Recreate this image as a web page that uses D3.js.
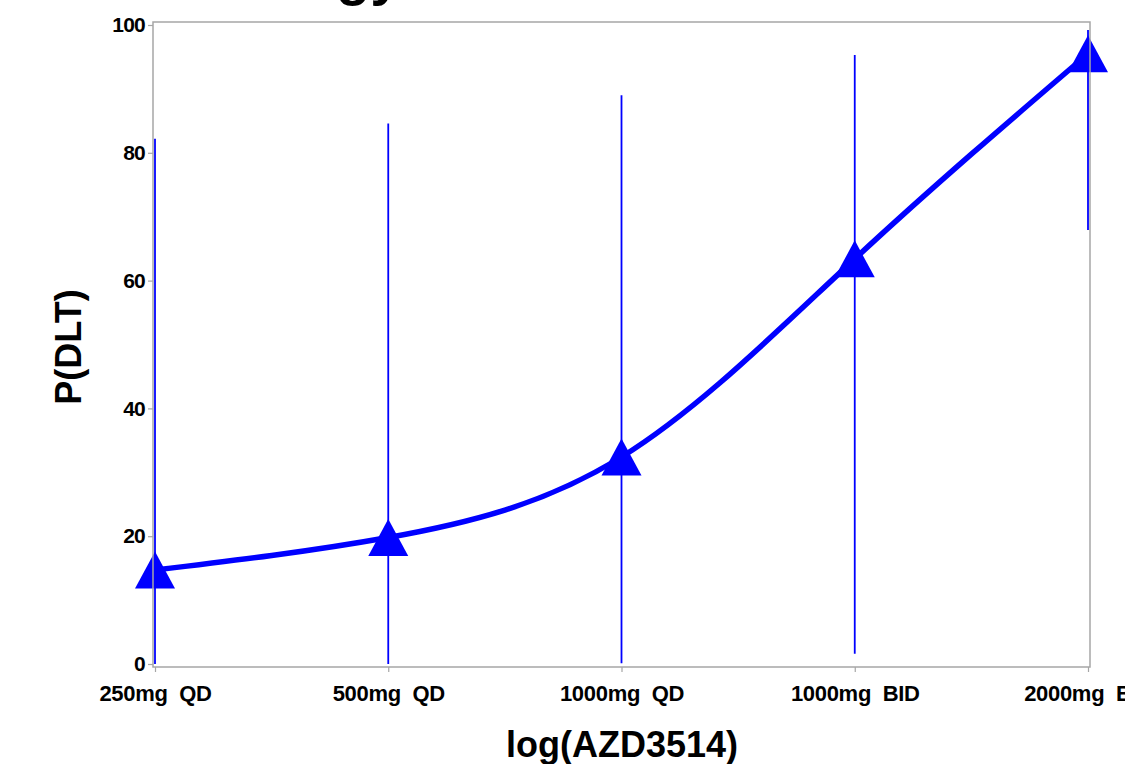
<!DOCTYPE html>
<html>
<head>
<meta charset="utf-8">
<script src="https://cdn.jsdelivr.net/npm/d3@7"></script>
<style>
  html, body { margin: 0; padding: 0; background: #fff; }
  svg { display: block; font-family: "Liberation Sans", Arial, Helvetica, sans-serif; }
  text { white-space: pre; }
</style>
</head>
<body>
<svg id="chart" width="1125" height="764"></svg>
<script>
// Dose levels and model estimates of P(DLT), in percent
const doseLabels = ["250mg  QD", "500mg  QD", "1000mg  QD", "1000mg  BID", "2000mg  BID"];
const pDLT      = [14.7, 19.8, 32.4, 63.4, 95.5];
const ciLower   = [0.0, 0.0, 0.1, 1.6, 67.9];
const ciUpper   = [82.2, 84.6, 89.0, 95.3, 99.2];
const yTicks    = [0, 20, 40, 60, 80, 100];
const titleText = "Toxicology";

const svg = d3.select("#chart");
const W = 1125, H = 764;
svg.append("rect").attr("width", W).attr("height", H).attr("fill", "#fff");

// plot frame edges
const frame = { left: 153, right: 1090, top: 22, bottom: 667 };

const x = d3.scalePoint().domain(doseLabels).range([155, 1088]);
const y = d3.scaleLinear().domain([0, 100]).range([664, 25]);

const rows = doseLabels.map((d, i) => ({ dose: d, p: pDLT[i], lo: ciLower[i], hi: ciUpper[i] }));
const blue = "#0000ff";

// title sits above the plot and runs off the top edge
svg.append("text")
  .attr("x", 110).attr("y", -6)
  .attr("font-size", 56).attr("font-weight", "bold").attr("fill", "#000")
  .text(titleText);

// interval bars
svg.append("g").selectAll("line").data(rows).join("line")
  .attr("x1", d => x(d.dose)).attr("x2", d => x(d.dose))
  .attr("y1", d => y(d.lo)).attr("y2", d => y(d.hi))
  .attr("stroke", blue).attr("stroke-width", 1.8);

// fitted curve through the estimates
const line = d3.line().x(d => x(d.dose)).y(d => y(d.p)).curve(d3.curveNatural);
svg.append("path").datum(rows)
  .attr("d", line).attr("fill", "none")
  .attr("stroke", blue).attr("stroke-width", 5.5).attr("stroke-linejoin", "round");

// triangle markers
const tri = "M0,-18.5L20,18.5L-20,18.5Z";
svg.append("g").selectAll("path").data(rows).join("path")
  .attr("d", tri)
  .attr("transform", d => `translate(${x(d.dose)},${y(d.p)})`)
  .attr("fill", blue);

// frame
svg.append("rect")
  .attr("x", frame.left).attr("y", frame.top)
  .attr("width", frame.right - frame.left).attr("height", frame.bottom - frame.top)
  .attr("fill", "none").attr("stroke", "#a6a6a6").attr("stroke-width", 1.5);

// y axis
const yAxis = svg.append("g").attr("transform", `translate(${frame.left},0)`)
  .call(d3.axisLeft(y).tickValues(yTicks).tickSize(5).tickPadding(3));
yAxis.select(".domain").remove();
yAxis.selectAll(".tick line").attr("stroke", "#a6a6a6").attr("stroke-width", 1.2);
yAxis.selectAll(".tick text")
  .attr("font-size", 21).attr("font-weight", "bold").attr("fill", "#000")
  .attr("font-family", "'Liberation Sans', Arial, sans-serif").attr("letter-spacing", -0.8);

// x axis
const xAxis = svg.append("g").attr("transform", `translate(0,${frame.bottom})`)
  .call(d3.axisBottom(x).tickSize(5).tickPadding(13));
xAxis.select(".domain").remove();
xAxis.selectAll(".tick line").attr("stroke", "#a6a6a6").attr("stroke-width", 1.2);
xAxis.selectAll(".tick text")
  .attr("font-size", 22).attr("font-weight", "bold").attr("fill", "#000")
  .attr("font-family", "'Liberation Sans', Arial, sans-serif").attr("letter-spacing", -0.3);

// axis titles
svg.append("text")
  .attr("x", 622).attr("y", 757).attr("text-anchor", "middle")
  .attr("font-size", 36).attr("font-weight", "bold").attr("fill", "#000")
  .text("log(AZD3514)");

svg.append("text")
  .attr("transform", "translate(81,347) rotate(-90)").attr("text-anchor", "middle")
  .attr("font-size", 36).attr("font-weight", "bold").attr("fill", "#000")
  .text("P(DLT)");
</script>
</body>
</html>
